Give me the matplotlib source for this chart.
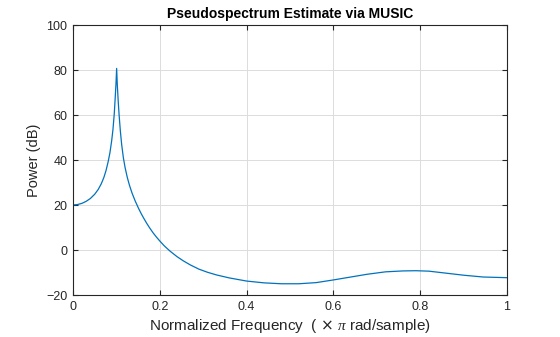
import numpy as np
import matplotlib.pyplot as plt

plt.rcParams['font.family'] = ['Liberation Sans', 'DejaVu Sans']
plt.rcParams['mathtext.fontset'] = 'custom'
plt.rcParams['mathtext.it'] = 'Liberation Serif:italic'

# MUSIC pseudospectrum (normalized frequency, dB)
freq = [0, 0.01, 0.02, 0.03, 0.04, 0.05, 0.058, 0.065, 0.071, 0.076,
        0.081, 0.085, 0.089, 0.092, 0.095, 0.097, 0.099, 0.1005,
        0.102, 0.104, 0.106, 0.109, 0.112, 0.116, 0.12, 0.125, 0.13, 0.136,
        0.143, 0.151, 0.157, 0.163, 0.17, 0.177, 0.185, 0.192, 0.2, 0.21,
        0.2235, 0.24, 0.254, 0.27, 0.29, 0.31, 0.331, 0.36, 0.4, 0.44, 0.48,
        0.52, 0.56, 0.6, 0.64, 0.677, 0.72, 0.76, 0.79, 0.82, 0.86, 0.9,
        0.945, 1.0]
power_db = [20.0, 20.2, 20.7, 21.6, 22.9, 24.8, 26.9, 29.4, 32.2, 35.3,
            39.3, 43.2, 48.5, 53.5, 60.5, 67.0, 74.0, 80.7,
            73.5, 66.5, 60.5, 53.0, 47.0, 41.0, 36.6, 32.3, 28.8, 25.3,
            21.9, 18.5, 16.2, 14.1, 11.8, 9.7, 7.5, 5.8, 4.0, 1.9,
            -0.5, -3.0, -4.8, -6.6, -8.5, -9.9, -11.1, -12.4, -13.8, -14.6, -15.0,
            -15.0, -14.5, -13.3, -12.0, -10.8, -9.7, -9.3, -9.2, -9.4, -10.3, -11.2,
            -12.0, -12.3]

xticks = [0, 0.2, 0.4, 0.6, 0.8, 1]
xticklabels = ['0', '0.2', '0.4', '0.6', '0.8', '1']
yticks = [-20, 0, 20, 40, 60, 80, 100]

fig = plt.figure(figsize=(5.6, 3.37), dpi=100)
ax = fig.add_axes([0.1304, 0.1246, 0.775, 0.8012])

ax.plot(freq, power_db, color='#0072BD', linewidth=0.9)

ax.set_xlim(0, 1)
ax.set_ylim(-20, 100)
ax.set_xticks(xticks)
ax.set_xticklabels(xticklabels)
ax.set_yticks(yticks)

ax.grid(True, color='#dcdcdc', linewidth=0.7)
ax.set_axisbelow(True)
ax.tick_params(direction='in', length=3.5, width=0.8, colors='#262626',
               labelsize=9, top=True, right=True, pad=4)
for s in ax.spines.values():
    s.set_color('#262626')
    s.set_linewidth(0.8)

ax.set_title('Pseudospectrum Estimate via MUSIC', fontsize=10, fontweight='bold',
             color='black', pad=5)
ax.set_xlabel(r'Normalized Frequency  ( $\times$ $\mathit{\pi}$ rad/sample)',
              fontsize=11, color='#262626', labelpad=3)
ax.set_ylabel('Power (dB)', fontsize=10.5, color='#262626', labelpad=4)

fig.savefig('out.png', dpi=100)
